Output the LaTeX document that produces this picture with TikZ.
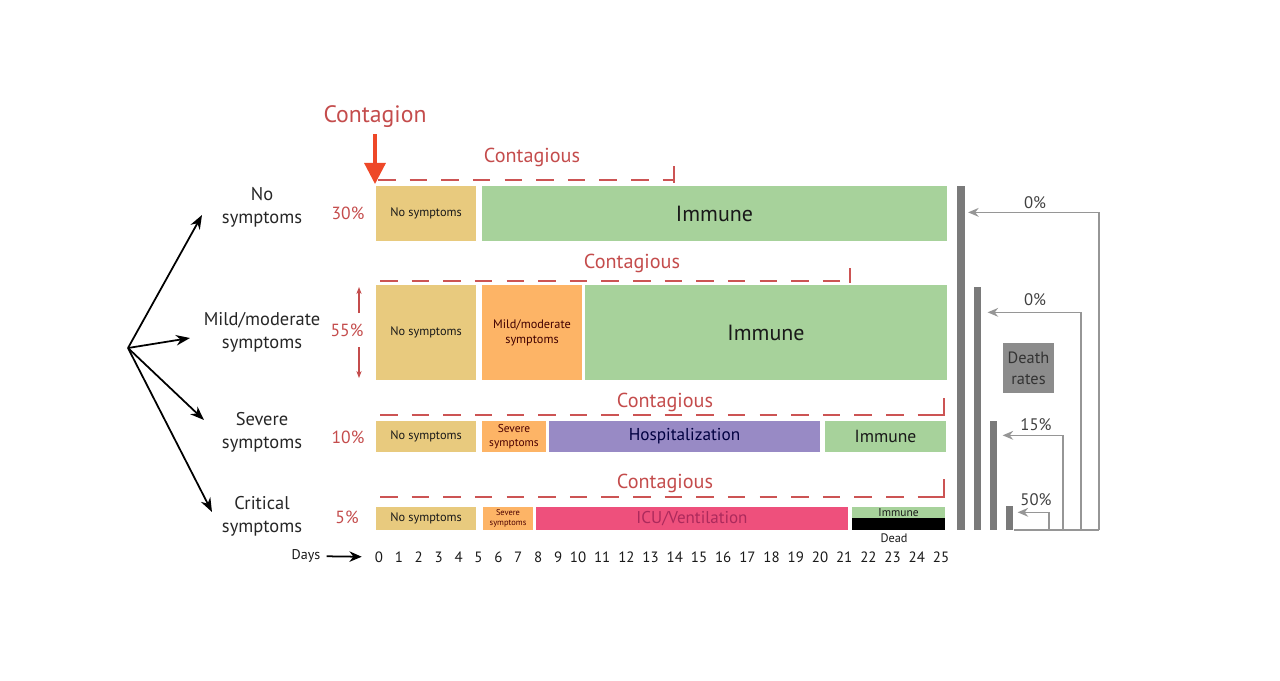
\documentclass[tikz,border=0pt]{standalone}
\usepackage{fontspec}
\setmainfont{PT Sans}
\usepackage{tikz}
\usetikzlibrary{arrows, arrows.meta}

\definecolor{nosym}{RGB}{232,202,126}
\definecolor{immune}{RGB}{167,210,155}
\definecolor{mild}{RGB}{253,180,102}
\definecolor{hosp}{RGB}{152,138,197}
\definecolor{icu}{RGB}{238,80,124}
\definecolor{icutxt}{RGB}{172,42,92}
\definecolor{redtxt}{RGB}{196,76,76}
\definecolor{dashred}{RGB}{204,84,84}
\definecolor{brightred}{RGB}{238,72,40}
\definecolor{barGray}{RGB}{122,122,122}
\definecolor{lineGray}{RGB}{150,150,150}
\definecolor{boxGray}{RGB}{140,140,140}

\tikzstyle{branch} = [line width=1pt,-{Stealth[length=8pt,width=6pt]}]
\tikzstyle{phasebox} = [rectangle, inner sep=0pt, text=black!90, font=\fontsize{7}{8.5}\selectfont, align=center]
\tikzstyle{grouplabel} = [align=center, text=black!85, font=\fontsize{10.5}{13}\selectfont]
\tikzstyle{pct} = [text=redtxt, font=\fontsize{10}{12}\selectfont]
\tikzstyle{contagtext} = [text=redtxt, font=\fontsize{11.5}{13}\selectfont]
\tikzstyle{contag} = [dashred, line width=1.1pt, dash pattern=on 10pt off 8pt]
\tikzstyle{contagend} = [dashred, line width=1.1pt]
\tikzstyle{deathbar} = [rectangle, inner sep=0pt, fill=barGray, minimum width=0.15cm, anchor=south]
\tikzstyle{rateline} = [lineGray, line width=0.8pt]
\tikzstyle{ratearrow} = [rateline, -{Stealth[length=6pt,width=5pt]}]
\tikzstyle{ratelabel} = [text=black!75, font=\fontsize{9.5}{11}\selectfont]
\tikzstyle{daylabel} = [text=black!90, font=\fontsize{8.5}{10}\selectfont]

\begin{document}
\begin{tikzpicture}[x=0.02cm, y=-0.02cm]
\useasboundingbox (0,0) rectangle (1280,680);

% contagion
\node(contagion)[text=redtxt, font=\fontsize{13.5}{16}\selectfont] at (375,117) {Contagion};
\coordinate (start) at (375,184);
\draw [brightred, line width=1.8pt, -{Triangle[length=12pt,width=12pt]}] (contagion) -- (start);

% groups
\coordinate (root) at (128,348);
\node(lab1)[grouplabel] at (262,207) {No\\symptoms};
\node(lab2)[grouplabel] at (262,332) {Mild/moderate\\symptoms};
\node(lab3)[grouplabel] at (262,432) {Severe\\symptoms};
\node(lab4)[grouplabel] at (262,516) {Critical\\symptoms};
\coordinate (t1) at (202,215);
\coordinate (t2) at (190,338);
\coordinate (t3) at (204,420);
\coordinate (t4) at (212,512);
\draw [branch] (root) -- (t1);
\draw [branch] (root) -- (t2);
\draw [branch] (root) -- (t3);
\draw [branch] (root) -- (t4);

\node(p1)[pct] at (348,213) {30\%};
\node(p2)[pct] at (347,330) {55\%};
\node(p3)[pct] at (348,437) {10\%};
\node(p4)[pct] at (347,517) {5\%};
\draw [redtxt, line width=0.6pt, -{Stealth[length=4pt,width=3pt]}] (359,313) -- (359,287);
\draw [redtxt, line width=0.6pt, -{Stealth[length=4pt,width=3pt]}] (359,347) -- (359,378);

% row 1: no symptoms
\node(ns1)[phasebox, fill=nosym, minimum width=2cm, minimum height=1.1cm] at (426,213.5) {No symptoms};
\node(im1)[phasebox, fill=immune, minimum width=9.3cm, minimum height=1.1cm, font=\fontsize{12.5}{15}\selectfont] at (714.5,213.5) {Immune};
\node(cg1)[contagtext] at (532,157) {Contagious};
\draw [contag] (378,180) -- (674,180);
\draw [contagend] (674,166) -- (674,183);

% row 2: mild
\node(ns2)[phasebox, fill=nosym, minimum width=2cm, minimum height=1.9cm] at (426,332.5) {No symptoms};
\node(md2)[phasebox, fill=mild, text=black!75!red, minimum width=2cm, minimum height=1.9cm] at (532,332.5) {Mild/moderate\\symptoms};
\node(im2)[phasebox, fill=immune, minimum width=7.24cm, minimum height=1.9cm, font=\fontsize{12.5}{15}\selectfont] at (766,332.5) {Immune};
\node(cg2)[contagtext] at (632,263) {Contagious};
\draw [contag] (380,281) -- (850,281);
\draw [contagend] (850,268) -- (850,283);

% row 3: severe
\node(ns3)[phasebox, fill=nosym, minimum width=2cm, minimum height=0.62cm] at (426,436.5) {No symptoms};
\node(sv3)[phasebox, fill=mild, text=black!70!red, minimum width=1.28cm, minimum height=0.62cm, font=\fontsize{6.5}{8}\selectfont] at (514,436.5) {Severe\\symptoms};
\node(ho3)[phasebox, fill=hosp, text=black!75!blue, minimum width=5.42cm, minimum height=0.62cm, font=\fontsize{9.8}{12}\selectfont] at (684.5,436.5) {Hospitalization};
\node(im3)[phasebox, fill=immune, minimum width=2.42cm, minimum height=0.62cm, font=\fontsize{10}{12}\selectfont] at (885.5,436.5) {Immune};
\node(cg3)[contagtext] at (665,402) {Contagious};
\draw [contag] (380,415) -- (934,415);
\draw [contagend] (934,415) -| (944,398);

% row 4: critical
\node(ns4)[phasebox, fill=nosym, minimum width=2cm, minimum height=0.46cm] at (426,518.5) {No symptoms};
\node(sv4)[phasebox, fill=mild, text=black!70!red, minimum width=1cm, minimum height=0.46cm, font=\fontsize{4.8}{5.6}\selectfont] at (508,518.5) {Severe\\symptoms};
\node(icu4)[phasebox, fill=icu, text=icutxt, minimum width=6.24cm, minimum height=0.46cm, font=\fontsize{9.7}{12}\selectfont] at (692,518.5) {ICU/Ventilation};
\node(im4)[phasebox, fill=immune, minimum width=1.86cm, minimum height=0.22cm, font=\fontsize{6.5}{7}\selectfont] at (898.5,512.5) {Immune};
\node(dead4)[phasebox, fill=black, minimum width=1.86cm, minimum height=0.24cm] at (898.5,524) {};
\node(deadlab)[phasebox] at (894,538) {Dead};
\node(cg4)[contagtext] at (665,483) {Contagious};
\draw [contag] (380,497) -- (934,497);
\draw [contagend] (934,497) -| (944,479);

% days axis
\foreach \d in {0,...,25} {
  \pgfmathsetmacro\dx{\d<10 ? 379+19.9*\d : 578+24.2*(\d-10)}
  \node(d\d)[daylabel] at (\dx,557) {\d};
}
\node(days)[daylabel, font=\fontsize{8}{10}\selectfont] at (306,556) {Days};
\draw [line width=1pt, -{Stealth[length=7pt,width=6pt]}, shorten <=0pt, shorten >=4pt] (days) -- (d0);

% death rates
\node(bar1)[deathbar, minimum height=6.88cm] at (961,530) {};
\node(bar2)[deathbar, minimum height=4.86cm] at (977.5,530) {};
\node(bar3)[deathbar, minimum height=2.18cm] at (993.5,530) {};
\node(bar4)[deathbar, minimum height=0.48cm] at (1009.5,530) {};
\coordinate (r1) at (1099,530);
\coordinate (r2) at (1081,530);
\coordinate (r3) at (1063,530);
\coordinate (r4) at (1049,530);
\draw [rateline] (bar4.south east) -- (r1);
\draw [ratearrow] (r1) |- ([xshift=0.06cm, yshift=-0.54cm]bar1.north east);
\draw [ratearrow] (r2) |- ([xshift=0.12cm, yshift=-0.52cm]bar2.north east);
\draw [ratearrow] (r3) |- ([xshift=0.1cm, yshift=-0.3cm]bar3.north east);
\draw [ratearrow] (r4) |- ([xshift=0.08cm, yshift=-0.14cm]bar4.north east);
\node(rl1)[ratelabel] at (1035,203) {0\%};
\node(rl2)[ratelabel] at (1035,300) {0\%};
\node(rl3)[ratelabel] at (1036,425) {15\%};
\node(rl4)[ratelabel] at (1036,500) {50\%};
\node(death)[rectangle, fill=boxGray, text=black!80, align=center, minimum width=1.02cm, minimum height=1cm, inner sep=1pt, font=\fontsize{9.3}{12}\selectfont] at (1028.5,368) {Death\\rates};

\end{tikzpicture}
\end{document}
